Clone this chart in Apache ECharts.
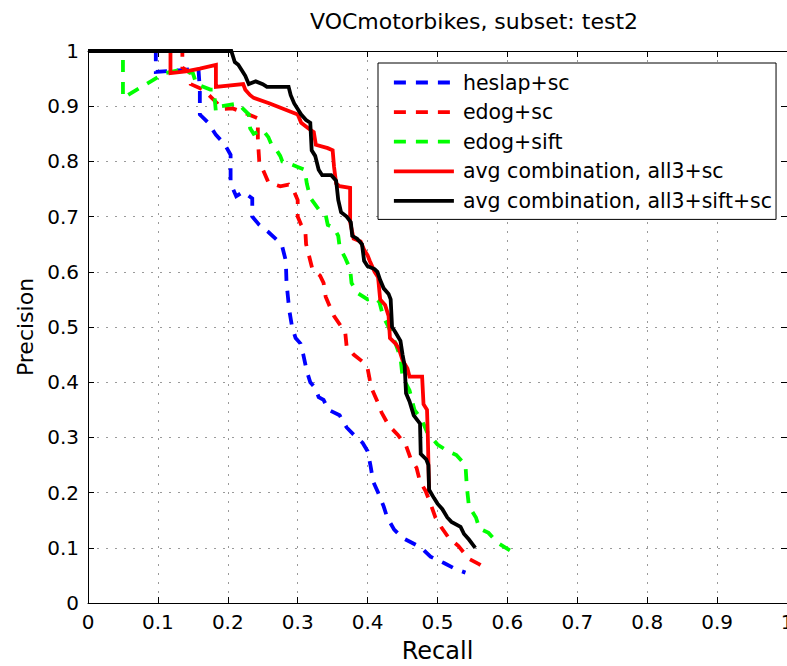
<!DOCTYPE html>
<html>
<head>
<meta charset="utf-8">
<script src="https://cdn.jsdelivr.net/npm/echarts@6/dist/echarts.min.js"></script>
<style>
  html, body { margin: 0; padding: 0; background: #ffffff; }
  #chart { width: 787px; height: 666px; }
</style>
</head>
<body>
<div id="chart"></div>
<script>
// Precision/recall curves, each point is [recall, precision]
const seriesNames = [
  'heslap+sc',
  'edog+sc',
  'edog+sift',
  'avg combination, all3+sc',
  'avg combination, all3+sift+sc'
];

const heslapSc = [
  [0,1],[0.097,1],[0.097,0.962],[0.13,0.965],[0.158,0.968],[0.16,0.93],[0.16,0.885],
  [0.172,0.87],[0.183,0.848],[0.195,0.832],[0.204,0.812],[0.204,0.76],[0.212,0.737],
  [0.222,0.745],[0.235,0.733],[0.235,0.70],[0.245,0.685],[0.258,0.672],[0.27,0.658],
  [0.278,0.645],[0.283,0.62],[0.284,0.58],[0.286,0.555],[0.288,0.53],[0.292,0.50],
  [0.297,0.48],[0.304,0.47],[0.308,0.45],[0.313,0.42],[0.318,0.40],[0.325,0.39],
  [0.33,0.373],[0.337,0.368],[0.344,0.35],[0.36,0.34],[0.37,0.318],[0.38,0.305],
  [0.393,0.29],[0.40,0.275],[0.404,0.25],[0.408,0.22],[0.415,0.2],[0.423,0.175],
  [0.428,0.155],[0.438,0.133],[0.45,0.118],[0.462,0.11],[0.477,0.1],[0.49,0.084],
  [0.51,0.072],[0.525,0.062],[0.54,0.055]
];

const edogSc = [
  [0,1],[0.135,1],[0.135,0.97],[0.147,0.96],[0.147,0.94],[0.165,0.93],[0.185,0.905],
  [0.19,0.895],[0.207,0.896],[0.228,0.886],[0.243,0.878],[0.243,0.84],[0.245,0.80],
  [0.252,0.78],[0.258,0.762],[0.275,0.755],[0.287,0.758],[0.295,0.745],[0.3,0.73],
  [0.3,0.70],[0.305,0.685],[0.311,0.672],[0.312,0.65],[0.317,0.625],[0.321,0.605],
  [0.332,0.593],[0.337,0.58],[0.34,0.555],[0.345,0.54],[0.352,0.52],[0.36,0.505],
  [0.368,0.49],[0.37,0.465],[0.38,0.45],[0.393,0.437],[0.40,0.425],[0.403,0.405],
  [0.407,0.385],[0.414,0.365],[0.42,0.345],[0.43,0.322],[0.443,0.305],[0.455,0.285],
  [0.462,0.26],[0.47,0.245],[0.475,0.22],[0.483,0.203],[0.49,0.18],[0.497,0.155],
  [0.505,0.138],[0.515,0.12],[0.53,0.103],[0.545,0.08],[0.56,0.07],[0.572,0.06]
];

const edogSift = [
  [0,1],[0.05,1],[0.05,0.915],[0.07,0.93],[0.09,0.945],[0.11,0.96],[0.13,0.965],
  [0.15,0.96],[0.155,0.94],[0.175,0.93],[0.18,0.93],[0.183,0.89],[0.19,0.9],
  [0.215,0.905],[0.222,0.895],[0.23,0.885],[0.232,0.86],[0.237,0.85],[0.25,0.857],
  [0.258,0.844],[0.262,0.832],[0.268,0.824],[0.275,0.81],[0.278,0.8],[0.29,0.795],
  [0.3,0.79],[0.31,0.785],[0.313,0.76],[0.318,0.734],[0.33,0.713],[0.34,0.703],
  [0.343,0.685],[0.352,0.68],[0.358,0.665],[0.36,0.645],[0.368,0.625],[0.375,0.605],
  [0.377,0.58],[0.385,0.562],[0.4,0.55],[0.41,0.553],[0.417,0.545],[0.422,0.52],
  [0.43,0.5],[0.44,0.47],[0.447,0.445],[0.45,0.41],[0.46,0.385],[0.467,0.35],
  [0.477,0.333],[0.485,0.31],[0.5,0.287],[0.515,0.275],[0.527,0.268],[0.54,0.25],
  [0.542,0.21],[0.545,0.175],[0.555,0.155],[0.56,0.135],[0.573,0.127],[0.585,0.11],
  [0.605,0.094]
];

const all3Sc = [
  [0,1],[0.118,1],[0.118,0.96],[0.14,0.963],[0.16,0.968],[0.183,0.975],[0.183,0.935],
  [0.222,0.94],[0.225,0.93],[0.232,0.92],[0.237,0.915],[0.26,0.905],[0.27,0.9],
  [0.29,0.89],[0.3,0.885],[0.305,0.87],[0.315,0.86],[0.323,0.853],[0.326,0.83],
  [0.343,0.824],[0.35,0.82],[0.352,0.79],[0.355,0.76],[0.36,0.755],[0.375,0.752],
  [0.375,0.69],[0.38,0.66],[0.39,0.655],[0.395,0.64],[0.4,0.63],[0.403,0.62],
  [0.41,0.6],[0.415,0.59],[0.418,0.55],[0.425,0.54],[0.43,0.52],[0.432,0.48],
  [0.44,0.47],[0.445,0.46],[0.45,0.44],[0.457,0.425],[0.46,0.41],[0.478,0.41],
  [0.48,0.36],[0.485,0.35],[0.486,0.31],[0.488,0.2]
];

const all3SiftSc = [
  [0,1],[0.205,1],[0.21,0.98],[0.215,0.975],[0.22,0.965],[0.225,0.955],[0.23,0.94],
  [0.24,0.945],[0.25,0.94],[0.256,0.935],[0.27,0.935],[0.287,0.935],[0.29,0.92],
  [0.295,0.905],[0.3,0.895],[0.305,0.885],[0.312,0.875],[0.318,0.87],[0.32,0.82],
  [0.325,0.81],[0.33,0.785],[0.335,0.775],[0.348,0.775],[0.355,0.765],[0.358,0.73],
  [0.362,0.708],[0.37,0.7],[0.376,0.69],[0.378,0.665],[0.385,0.66],[0.392,0.65],
  [0.395,0.62],[0.4,0.61],[0.41,0.605],[0.414,0.6],[0.418,0.585],[0.423,0.57],
  [0.43,0.56],[0.433,0.55],[0.435,0.5],[0.44,0.49],[0.447,0.475],[0.45,0.45],
  [0.453,0.43],[0.455,0.38],[0.46,0.365],[0.466,0.34],[0.475,0.325],[0.476,0.27],
  [0.484,0.26],[0.487,0.25],[0.488,0.205],[0.495,0.19],[0.5,0.18],[0.507,0.17],
  [0.514,0.155],[0.52,0.147],[0.533,0.138],[0.538,0.125],[0.545,0.115],[0.554,0.1]
];

const curveData = [heslapSc, edogSc, edogSift, all3Sc, all3SiftSc];
const curveColors = ['#0000ff', '#ff0000', '#00ff00', '#ff0000', '#000000'];
const curveDashed = [true, true, true, false, false];

const FONT = 'DejaVu Sans';
const LINE_W = 3.8;
const DASH = [12, 10];

const chart = echarts.init(document.getElementById('chart'), null, { renderer: 'svg' });

const gridLine = { show: true, lineStyle: { color: '#9a9a9a', width: 1, type: [2, 7] } };
const frameLine = { show: true, onZero: false, lineStyle: { color: '#000', width: 1 } };
const innerTick = { show: true, inside: true, length: 6, lineStyle: { color: '#000' } };

chart.setOption({
  backgroundColor: '#ffffff',
  animation: false,
  title: {
    text: 'VOCmotorbikes, subset: test2',
    left: 469,
    top: 5,
    textAlign: 'center',
    textStyle: { fontFamily: FONT, fontSize: 22, fontWeight: 'normal', color: '#000' }
  },
  grid: {
    left: 88, top: 51, right: 0, bottom: 63,
    containLabel: false,
    outerBoundsMode: 'none'
  },
  legend: {
    data: seriesNames,
    orient: 'vertical',
    left: 378,
    top: 63,
    padding: [9, 4, 8, 14],
    itemGap: 8.6,
    itemWidth: 60,
    itemHeight: 20,
    backgroundColor: '#ffffff',
    borderColor: '#000',
    borderWidth: 1,
    borderRadius: 0,
    itemStyle: { opacity: 0 },
    lineStyle: { width: LINE_W },
    textStyle: { fontFamily: FONT, fontSize: 20.5, color: '#000', lineHeight: 20, padding: [0, 0, 0, 4] }
  },
  xAxis: [
    {
      type: 'value', min: 0, max: 1, interval: 0.1, position: 'bottom',
      name: 'Recall', nameLocation: 'middle', nameGap: 36,
      nameTextStyle: { fontFamily: FONT, fontSize: 24, color: '#000' },
      axisLine: frameLine, axisTick: innerTick,
      axisLabel: { fontFamily: FONT, fontSize: 20, color: '#000', margin: 9, showMaxLabel: true },
      splitLine: gridLine
    },
    {
      type: 'value', min: 0, max: 1, interval: 0.1, position: 'top',
      axisLine: frameLine, axisTick: innerTick,
      axisLabel: { show: false }, splitLine: { show: false }
    }
  ],
  yAxis: [
    {
      type: 'value', min: 0, max: 1, interval: 0.1, position: 'left',
      name: 'Precision', nameLocation: 'middle', nameGap: 52, nameRotate: 90,
      nameTextStyle: { fontFamily: FONT, fontSize: 22, color: '#000' },
      axisLine: frameLine, axisTick: innerTick,
      axisLabel: { fontFamily: FONT, fontSize: 20, color: '#000', margin: 9 },
      splitLine: gridLine
    },
    {
      type: 'value', min: 0, max: 1, interval: 0.1, position: 'right',
      axisLine: frameLine, axisTick: innerTick,
      axisLabel: { show: false }, splitLine: { show: false }
    }
  ],
  series: curveData.map((pts, i) => ({
    name: seriesNames[i],
    type: 'line',
    data: pts,
    xAxisIndex: 0,
    yAxisIndex: 0,
    symbol: 'none',
    smooth: false,
    clip: true,
    lineStyle: {
      color: curveColors[i],
      width: LINE_W,
      type: curveDashed[i] ? DASH : 'solid',
      cap: 'butt',
      join: 'miter'
    },
    itemStyle: { color: curveColors[i] },
    z: 2 + i
  }))
});
</script>
</body>
</html>
